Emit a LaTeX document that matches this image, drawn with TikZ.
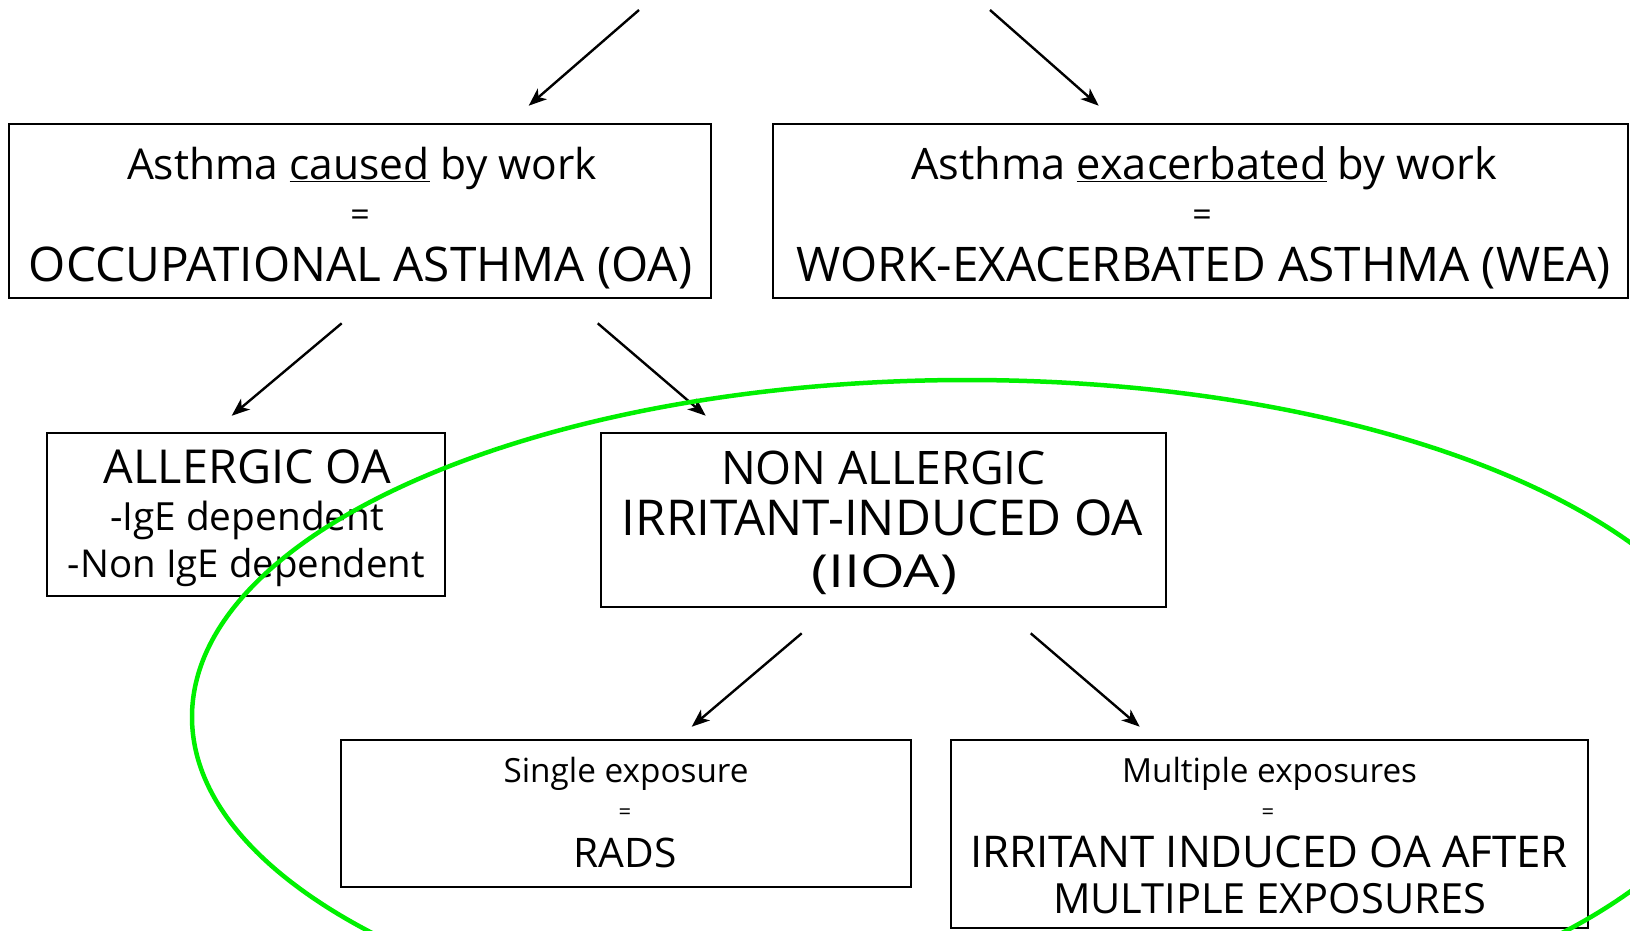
\documentclass[tikz,border=0pt]{standalone}
\usepackage{fontspec}
\setmainfont{Open Sans}
\usetikzlibrary{arrows.meta}
\definecolor{ringgreen}{RGB}{0,240,0}
\newcommand{\fitw}[2]{\resizebox{#1pt}{!}{#2}}
\begin{document}
\begin{tikzpicture}[x=1pt,y=-1pt,
  box/.style={draw=black, line width=2.6pt, rectangle, inner sep=0pt},
  txt/.style={anchor=base, inner sep=0pt, font=\fontsize{40}{48}\selectfont},
  eqbig/.style={anchor=center, inner sep=0pt, font=\fontsize{34}{40}\selectfont},
  eqsmall/.style={anchor=center, inner sep=0pt, font=\fontsize{22}{26}\selectfont},
  arr/.style={line width=2.4pt, -{Stealth[length=18pt,width=14pt,inset=5pt]}},
  ring/.style={draw=ringgreen, line width=4.5pt}]
\useasboundingbox (0,0) rectangle (1630,930);
\fill[white] (0,0) rectangle (1630,930);
\begin{scope}
\clip (0,0) rectangle (1630,930);
% boxes
\node[box, minimum width=702pt, minimum height=174pt] (oa) at (360,211) {};
\node[box, minimum width=855pt, minimum height=174pt] (wea) at (1200.5,211) {};
\node[box, minimum width=398pt, minimum height=163pt] (al) at (246,514.5) {};
\node[box, minimum width=565pt, minimum height=174pt] (na) at (883.5,520) {};
\node[box, minimum width=570pt, minimum height=147pt] (se) at (626,813.5) {};
\node[box, minimum width=637pt, minimum height=188pt] (me) at (1269.5,834) {};
% texts
\node[txt] (oa1) at (362,179) {\fitw{470}{Asthma \underline{caused} by work}};
\node[eqbig] (oa2) at (360,218) {=};
\node[txt] (oa3) at (360.5,281) {\fitw{663}{OCCUPATIONAL ASTHMA (OA)}};
\node[txt] (wea1) at (1204,179) {\fitw{586}{Asthma \underline{exacerbated} by work}};
\node[eqbig] (wea2) at (1202,218) {=};
\node[txt] (wea3) at (1204,281) {\fitw{814}{WORK-EXACERBATED ASTHMA (WEA)}};
\node[txt] (al1) at (247.5,483) {\fitw{287}{ALLERGIC OA}};
\node[txt] (al2) at (247,530) {\fitw{274}{-IgE dependent}};
\node[txt] (al3) at (246.5,577) {\fitw{357}{-Non IgE dependent}};
\node[txt] (na1) at (883.5,484) {\fitw{325}{NON ALLERGIC}};
\node[txt] (na2) at (882.5,535) {\fitw{521}{IRRITANT-INDUCED OA}};
\node[txt] (na3) at (884,587) {\resizebox{146pt}{33pt}{(IIOA)}};
\node[txt] (se1) at (626,782) {\fitw{245}{Single exposure}};
\node[eqsmall] (se2) at (625,814) {=};
\node[txt] (se3) at (625,867) {\fitw{103}{RADS}};
\node[txt] (me1) at (1269.5,782) {\fitw{295}{Multiple exposures}};
\node[eqsmall] (me2) at (1268,814) {=};
\node[txt] (me3) at (1269,867) {\fitw{598}{IRRITANT INDUCED OA AFTER}};
\node[txt] (me4) at (1269.5,913) {\fitw{433}{MULTIPLE EXPOSURES}};
% arrows
\coordinate (top1) at (639,10);
\coordinate (top2) at (990,10);
\draw[arr] (top1) -- ([shift={(521,-17)}]oa.north west);
\draw[arr] (top2) -- ([shift={(327,-17)}]wea.north west);
\draw[arr] ([shift={(334,24)}]oa.south west) -- ([shift={(186,-16)}]al.north west);
\draw[arr] ([shift={(590,24)}]oa.south west) -- ([shift={(106,-16)}]na.north west);
\draw[arr] ([shift={(202,25)}]na.south west) -- ([shift={(352,-12)}]se.north west);
\draw[arr] ([shift={(431,25)}]na.south west) -- ([shift={(190,-12)}]me.north west);
% green ring
\draw[ring] (967,717) ellipse [x radius=775pt, y radius=337pt];
\end{scope}
\end{tikzpicture}
\end{document}
